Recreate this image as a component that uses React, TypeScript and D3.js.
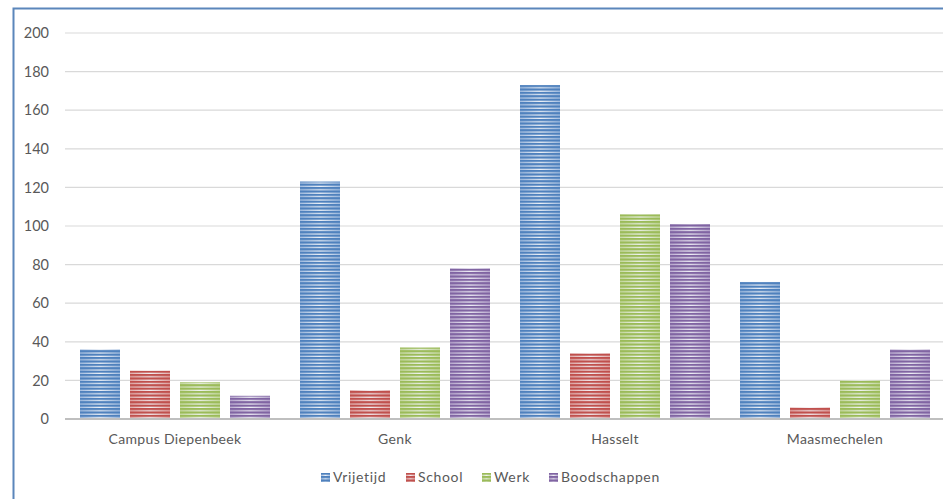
import React from "react";
import * as d3 from "d3";

const categories = ["Campus Diepenbeek", "Genk", "Hasselt", "Maasmechelen"];
const seriesNames = ["Vrijetijd", "School", "Werk", "Boodschappen"];
const vrijetijd = [36, 123, 173, 71];
const school = [25, 15, 34, 6];
const werk = [19, 37, 106, 20];
const boodschappen = [12, 78, 101, 36];
const yTicks = [0, 20, 40, 60, 80, 100, 120, 140, 160, 180, 200];

const seriesValues = [vrijetijd, school, werk, boodschappen];
const darkColors = ["#4f81bd", "#c0504d", "#9bbb59", "#8064a2"];
const lightColors = ["#a9c1e2", "#e3b2b1", "#cbdcaa", "#c0b2d4"];

const W = 943;
const H = 499;
const FONT = "Lato, 'Open Sans', sans-serif";

export default function App() {
  const x0 = d3
    .scaleBand<string>()
    .domain(categories)
    .range([65, 945])
    .paddingInner(30 / 220)
    .paddingOuter(15 / 220);
  const x1 = d3
    .scaleBand<string>()
    .domain(seriesNames)
    .range([0, x0.bandwidth()])
    .paddingInner(0.2)
    .paddingOuter(0);
  const y = d3.scaleLinear().domain([0, 200]).range([419, 33]);

  const legendX = [321, 406, 482, 549];

  return (
    <svg
      width={W}
      height={H}
      style={{ position: "absolute", left: 0, top: 0, background: "#fff" }}
      fontFamily={FONT}
    >
      <defs>
        {seriesNames.map((s, i) => (
          <React.Fragment key={s}>
            <linearGradient id={`g${i}`} x1="0" x2="1" y1="0" y2="0">
              <stop offset="0" stopColor={lightColors[i]} />
              <stop offset="0.5" stopColor="#f4f6fa" />
              <stop offset="1" stopColor={lightColors[i]} />
            </linearGradient>
            <pattern
              id={`p${i}`}
              patternUnits="userSpaceOnUse"
              width={8}
              height={3.4}
            >
              <rect x={0} y={0} width={8} height={2.2} fill={darkColors[i]} />
            </pattern>
          </React.Fragment>
        ))}
      </defs>
      <rect x={0} y={0} width={W} height={H} fill="#fff" />
      {/* gridlines */}
      {yTicks.map((t) =>
        t === 0 ? null : (
          <line
            key={t}
            x1={65}
            x2={945}
            y1={y(t)}
            y2={y(t)}
            stroke="#d9d9d9"
            strokeWidth={1.2}
          />
        )
      )}
      {/* tick labels */}
      {yTicks.map((t) => (
        <text
          key={t}
          x={49}
          y={y(t)}
          dy="0.36em"
          textAnchor="end"
          fontSize={14.5}
          fill="#595959"
        >
          {t}
        </text>
      ))}
      {/* bars */}
      {categories.map((c, ci) => (
        <g key={c} transform={`translate(${x0(c)},0)`}>
          {seriesNames.map((s, si) => {
            const v = seriesValues[si][ci];
            const bx = x1(s)!;
            const by = y(v);
            const bh = y(0) - y(v);
            return (
              <g key={s}>
                <rect
                  x={bx}
                  y={by}
                  width={x1.bandwidth()}
                  height={bh}
                  fill={`url(#g${si})`}
                />
                <rect
                  x={bx}
                  y={by}
                  width={x1.bandwidth()}
                  height={bh}
                  fill={`url(#p${si})`}
                />
              </g>
            );
          })}
        </g>
      ))}
      {/* baseline */}
      <line x1={65} x2={945} y1={y(0)} y2={y(0)} stroke="#bfbfbf" strokeWidth={2} />
      {/* category labels */}
      {categories.map((c) => (
        <text
          key={c}
          x={x0(c)! + x0.bandwidth() / 2}
          y={444}
          textAnchor="middle"
          fontSize={14}
          letterSpacing={0.35}
          fill="#595959"
        >
          {c}
        </text>
      ))}
      {/* legend */}
      {seriesNames.map((s, i) => (
        <g key={s} transform={`translate(${legendX[i]},0)`}>
          <rect x={0} y={473} width={9} height={9} fill={`url(#g${i})`} />
          <rect x={0} y={473} width={9} height={9} fill={`url(#p${i})`} />
          <text x={12} y={482} fontSize={14} letterSpacing={0.65} fill="#595959">
            {s}
          </text>
        </g>
      ))}
      {/* border */}
      <rect
        x={13.5}
        y={8.5}
        width={W + 20}
        height={H + 20}
        fill="none"
        stroke="#5b86bb"
        strokeWidth={2}
      />
    </svg>
  );
}
